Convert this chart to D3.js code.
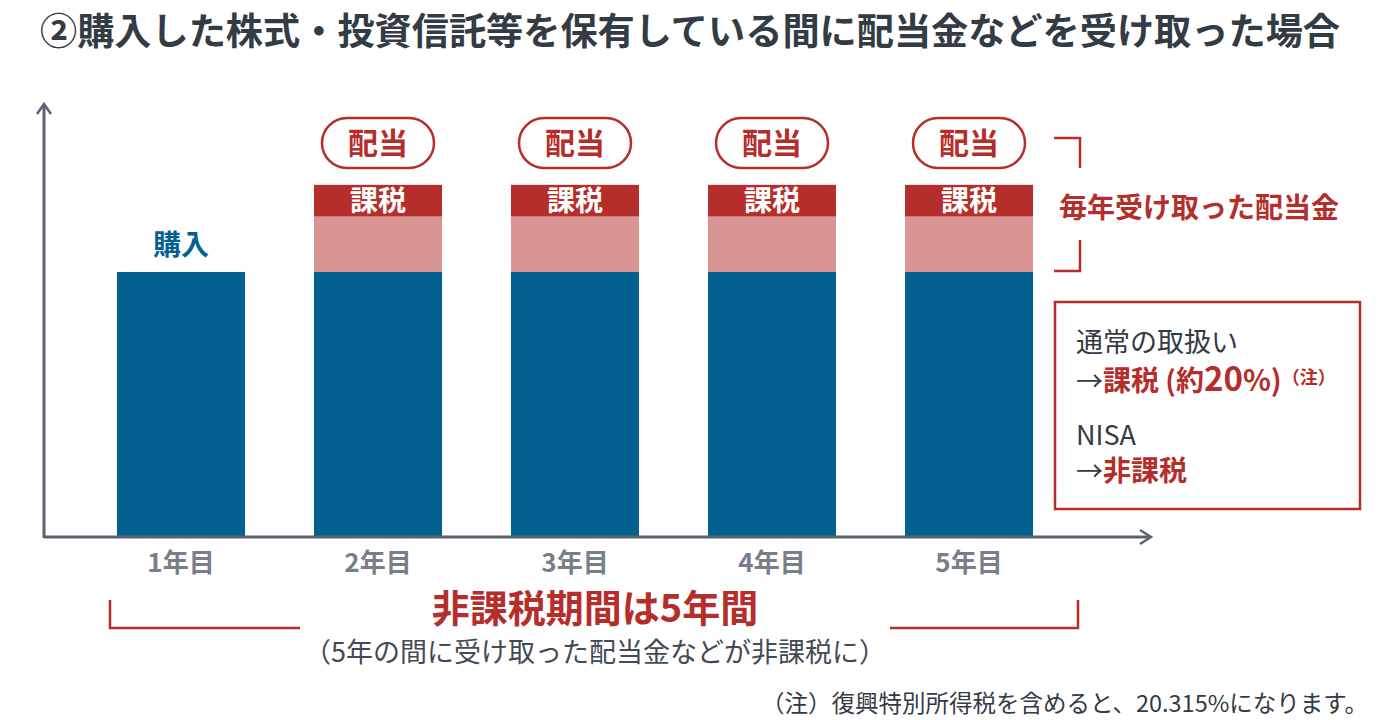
<!DOCTYPE html>
<html><head><meta charset="utf-8">
<script src="https://cdn.jsdelivr.net/npm/d3@7"></script>
<style>
html,body{margin:0;padding:0;background:#fff;}
svg{display:block;font-family:"Noto Sans CJK JP","Noto Sans",sans-serif;}
</style></head>
<body><svg id="c" width="1400" height="720"></svg>
<script>
const years = ["1年目","2年目","3年目","4年目","5年目"];
const principal = [100,100,100,100,100];
const dividendNet = [0,21,21,21,21];
const dividendTax = [0,12,12,12,12];
const title = "②購入した株式・投資信託等を保有している間に配当金などを受け取った場合";

const BLUE="#02618f", PINK="#d99593", RED="#b52e2b", AX="#5b6270", TXT="#333b45", GRAY="#787f8a";
const svg = d3.select("#c");

const x = d3.scaleBand().domain(years).range([82.5,1067.5]).paddingInner(0.35).paddingOuter(0.175);
const y = d3.scaleLinear().domain([0,164]).range([536,103]);

svg.append("text").attr("x",40).attr("y",45).attr("font-size",37).attr("font-weight",700)
  .attr("fill",TXT).attr("textLength",1300).attr("lengthAdjust","spacingAndGlyphs").text(title);

const rows = years.map((k,i)=>({year:k,principal:principal[i],net:dividendNet[i],tax:dividendTax[i]}));
const stack = d3.stack().keys(["principal","net","tax"])(rows);
const colors = {principal:BLUE, net:PINK, tax:RED};
stack.forEach(layer=>{
  svg.append("g").selectAll("rect").data(layer.filter(d=>d[1]>d[0])).join("rect")
    .attr("x",d=>x(d.data.year)).attr("width",x.bandwidth())
    .attr("y",d=>y(d[1])).attr("height",d=>y(d[0])-y(d[1]))
    .attr("fill",colors[layer.key]);
});

// axes
const xa = svg.append("g").attr("transform","translate(0,537)")
  .call(d3.axisBottom(x).tickSize(0).tickPadding(0));
xa.select(".domain").remove();
xa.selectAll("text").attr("font-size",26).attr("font-weight",700).attr("fill",GRAY)
  .attr("dy",null).attr("y",35)
  .attr("font-family",'"Noto Sans CJK JP",sans-serif');

svg.append("line").attr("x1",44).attr("x2",1150).attr("y1",537).attr("y2",537).attr("stroke",AX).attr("stroke-width",3);
svg.append("path").attr("d","M1140,530 L1151,537 L1140,544").attr("fill","none").attr("stroke",AX).attr("stroke-width",2.5);
svg.append("line").attr("x1",44).attr("x2",44).attr("y1",538).attr("y2",105).attr("stroke",AX).attr("stroke-width",3);
svg.append("path").attr("d","M37,114 L44,104 L51,114").attr("fill","none").attr("stroke",AX).attr("stroke-width",2.5);

// labels
svg.append("text").attr("x",x(years[0])+x.bandwidth()/2).attr("y",y(principal[0])-17)
  .attr("text-anchor","middle").attr("font-size",28).attr("font-weight",700).attr("fill",BLUE).text("購入");

rows.filter(d=>d.tax>0).forEach(d=>{
  const cx = x(d.year)+x.bandwidth()/2;
  const top = y(d.principal+d.net+d.tax), mid = y(d.principal+d.net);
  svg.append("text").attr("x",cx).attr("y",(top+mid)/2+10).attr("text-anchor","middle")
    .attr("font-size",28).attr("font-weight",700).attr("fill","#fff").text("課税");
  svg.append("rect").attr("x",cx-56).attr("y",118).attr("width",112).attr("height",50).attr("rx",25)
    .attr("fill","#fff").attr("stroke",RED).attr("stroke-width",2.5);
  svg.append("text").attr("x",cx).attr("y",154).attr("text-anchor","middle")
    .attr("font-size",30).attr("font-weight",700).attr("fill",RED).text("配当");
});

// right bracket
svg.append("path").attr("d",`M1054,138 L1080,138 L1080,168`).attr("fill","none").attr("stroke",RED).attr("stroke-width",2.5);
svg.append("path").attr("d",`M1080,240 L1080,271 L1054,271`).attr("fill","none").attr("stroke",RED).attr("stroke-width",2.5);
svg.append("text").attr("x",1059).attr("y",218).attr("font-size",28).attr("font-weight",700).attr("fill",RED).text("毎年受け取った配当金");

// box
svg.append("rect").attr("x",1055).attr("y",302).attr("width",305).attr("height",207).attr("fill","none").attr("stroke",RED).attr("stroke-width",2.5);
svg.append("text").attr("x",1076).attr("y",352).attr("font-size",27).attr("fill",TXT).text("通常の取扱い");
const t2 = svg.append("text").attr("x",1076).attr("y",391).attr("font-size",27).attr("fill",TXT);
t2.append("tspan").text("→");
t2.append("tspan").attr("fill",RED).attr("font-weight",700).attr("font-size",28).text("課税 (約");
t2.append("tspan").attr("fill",RED).attr("font-weight",700).attr("font-size",33).text("20");
t2.append("tspan").attr("fill",RED).attr("font-weight",700).attr("font-size",29).text("%)");
t2.append("tspan").attr("fill",RED).attr("font-weight",700).attr("font-size",18).attr("dy",-7).text("（注）");
svg.append("text").attr("x",1076).attr("y",445).attr("font-size",27).attr("fill",TXT).text("NISA");
const t4 = svg.append("text").attr("x",1076).attr("y",481).attr("font-size",27).attr("fill",TXT);
t4.append("tspan").text("→");
t4.append("tspan").attr("fill",RED).attr("font-weight",700).attr("font-size",28).text("非課税");

// bottom bracket
svg.append("path").attr("d","M110,600 L110,628 L300,628").attr("fill","none").attr("stroke",RED).attr("stroke-width",2.5);
svg.append("path").attr("d","M890,628 L1078,628 L1078,600").attr("fill","none").attr("stroke",RED).attr("stroke-width",2.5);
svg.append("text").attr("x",595).attr("y",622).attr("text-anchor","middle").attr("font-size",38).attr("font-weight",700).attr("fill",RED).text("非課税期間は5年間");
svg.append("text").attr("x",595).attr("y",662).attr("text-anchor","middle").attr("font-size",27).attr("fill","#444a53").text("（5年の間に受け取った配当金などが非課税に）");

svg.append("text").attr("x",1368).attr("y",712).attr("text-anchor","end").attr("font-size",23.5).attr("fill",TXT).text("（注）復興特別所得税を含めると、20.315%になります。");
</script></body></html>
